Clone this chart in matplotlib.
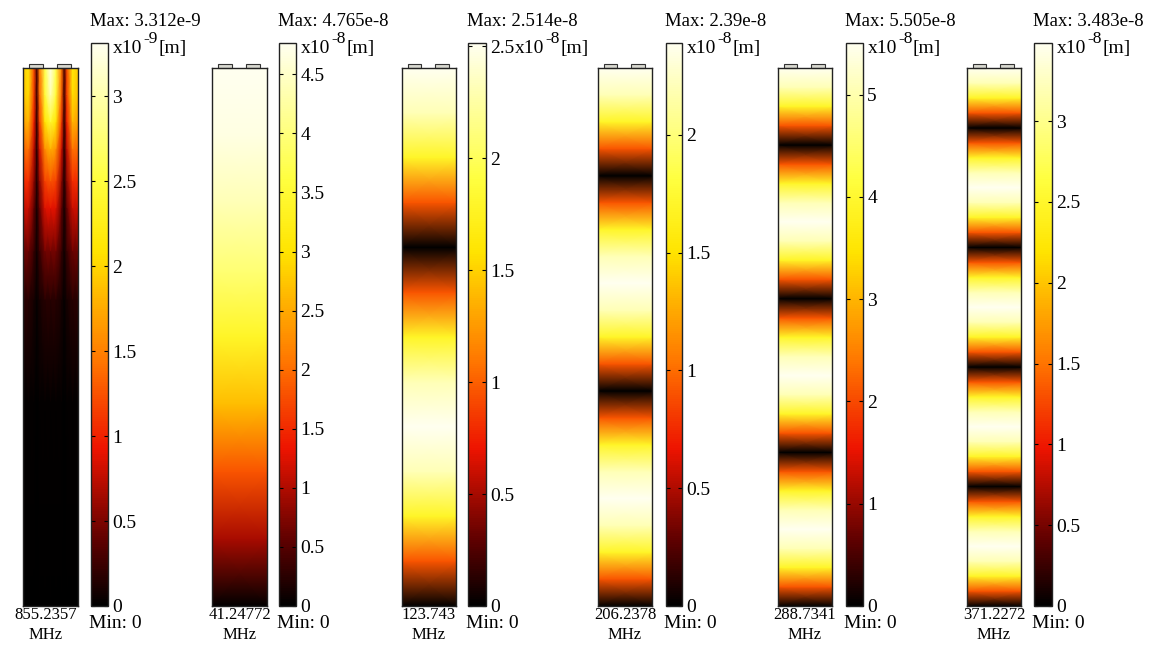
import matplotlib
matplotlib.use("Agg")
import matplotlib.pyplot as plt
import numpy as np
from matplotlib.colors import LinearSegmentedColormap
from matplotlib.patches import Rectangle

plt.rcParams['font.family'] = ['Liberation Serif', 'DejaVu Serif']

# eigenfrequencies (MHz) and max displacement of each panel
freqs = ['855.2357', '41.24772', '123.743', '206.2378', '288.7341', '371.2272']
max_vals = [3.312, 4.765, 2.514, 2.39, 5.505, 3.483]
max_text = ['3.312e-9', '4.765e-8', '2.514e-8', '2.39e-8', '5.505e-8', '3.483e-8']
exps = ['-9', '-8', '-8', '-8', '-8', '-8']
cb_ticks = [
    [0, 0.5, 1, 1.5, 2, 2.5, 3],
    [0, 0.5, 1, 1.5, 2, 2.5, 3, 3.5, 4, 4.5],
    [0, 0.5, 1, 1.5, 2, 2.5],
    [0, 0.5, 1, 1.5, 2],
    [0, 1, 2, 3, 4, 5],
    [0, 0.5, 1, 1.5, 2, 2.5, 3],
]

# panel 1: 2D field near the top, rows as height fraction (bottom = 0), cols across width
p1_rows = [0.0, 0.38, 0.57, 0.66, 0.74, 0.79, 0.85, 0.90, 0.95, 1.0]
p1_cols = [0, 0.1, 0.2, 0.25, 0.3, 0.4, 0.5, 0.6, 0.7, 0.75, 0.8, 0.9, 1.0]
p1_vals = [
    [0.0, 0.0, 0.0, 0.0, 0.0, 0.0, 0.0, 0.0, 0.0, 0.0, 0.0, 0.0, 0.0],
    [0.005, 0.005, 0.004, 0.002, 0.004, 0.005, 0.005, 0.005, 0.004, 0.002, 0.004, 0.005, 0.005],
    [0.05, 0.05, 0.03, 0.01, 0.03, 0.05, 0.05, 0.05, 0.03, 0.01, 0.03, 0.05, 0.05],
    [0.13, 0.13, 0.07, 0.02, 0.07, 0.14, 0.14, 0.14, 0.07, 0.02, 0.07, 0.13, 0.13],
    [0.24, 0.24, 0.12, 0.03, 0.12, 0.26, 0.27, 0.26, 0.12, 0.03, 0.12, 0.24, 0.24],
    [0.32, 0.32, 0.17, 0.04, 0.17, 0.35, 0.38, 0.35, 0.17, 0.04, 0.17, 0.32, 0.32],
    [0.41, 0.43, 0.23, 0.05, 0.25, 0.48, 0.54, 0.48, 0.25, 0.05, 0.23, 0.43, 0.41],
    [0.50, 0.55, 0.30, 0.06, 0.34, 0.63, 0.73, 0.63, 0.34, 0.06, 0.30, 0.55, 0.50],
    [0.56, 0.62, 0.35, 0.08, 0.41, 0.74, 0.92, 0.74, 0.41, 0.08, 0.35, 0.62, 0.56],
    [0.58, 0.65, 0.37, 0.09, 0.44, 0.78, 0.98, 0.78, 0.44, 0.09, 0.37, 0.65, 0.58],
]

# panels 2-6: displacement profile along the height (bottom -> top), fraction of max
p2 = [0, 0.20, 0.38, 0.56, 0.71, 0.83, 0.92, 0.98, 1.0]
p3 = [0, .38, .71, .92, 1, .92, .71, .38, 0, .38, .71, .92, 1]
p4 = [0, .38, .71, .92, 1, .92, .71, .38, 0, .38, .71, .92, 1, .92, .71, .38, 0,
      .38, .71, .92, 1]
p5 = [0, .38, .71, .92, 1, .92, .71, .38, 0, .38, .71, .92, 1, .92, .71, .38, 0,
      .38, .71, .92, 1, .92, .71, .38, 0, .38, .71, .92, 1]
p6 = [0, .38, .71, .92, 1, .92, .71, .38, 0, .38, .71, .92, 1, .92, .71, .38, 0,
      .38, .71, .92, 1, .92, .71, .38, 0, .38, .71, .92, 1, .92, .71, .38, 0,
      .38, .71, .92, 1]
profiles = [p2, p3, p4, p5, p6]

# layout in pixels
W, H = 1161, 651
bar_px = [(23, 78), (212, 267), (402, 456), (598, 652), (778, 832), (967, 1021)]
cb_px = [(91, 108), (279, 296), (468, 486), (666, 682), (846, 863), (1034, 1052)]
bottom_y, bar_top, cb_top = 606, 68, 43

cmap = LinearSegmentedColormap.from_list('thermal', [
    (0.0, '#000000'), (0.11, '#5a0000'), (0.28, '#ee1400'), (0.43, '#ff7400'),
    (0.63, '#ffe400'), (0.76, '#ffff40'), (1.0, '#fffff0')])

fig = plt.figure(figsize=(W / 100, H / 100), dpi=100)

def ftxt(x, y, s, **kw):
    fig.text(x / W, 1 - y / H, s, **kw)

for i in range(6):
    x0, x1 = bar_px[i]
    ax = fig.add_axes([x0 / W, (H - bottom_y) / H, (x1 - x0) / W, (bottom_y - bar_top) / H])
    vmax = max_vals[i]
    if i == 0:
        X, Y = np.meshgrid(p1_cols, p1_rows)
        C = np.array(p1_vals) * vmax
    else:
        prof = np.array(profiles[i - 1]) * vmax
        t = np.linspace(0, 1, len(prof))
        X, Y = np.meshgrid([0, 1], t)
        C = np.column_stack([prof, prof])
    m = ax.pcolormesh(X, Y, C, shading='gouraud', cmap=cmap, vmin=0, vmax=vmax)
    ax.set_xlim(0, 1)
    ax.set_ylim(0, 1)
    ax.set_xticks([])
    ax.set_yticks([])
    for s in ax.spines.values():
        s.set_color('#222222')
        s.set_linewidth(1.0)
    # small electrode tabs on top
    for tx in (0.11, 0.62):
        ax.add_patch(Rectangle((tx, 1.0), 0.25, 0.008, transform=ax.transAxes,
                               clip_on=False, facecolor='#d8d8d0', edgecolor='#333333', lw=0.8))

    c0, c1 = cb_px[i]
    cax = fig.add_axes([c0 / W, (H - bottom_y) / H, (c1 - c0) / W, (bottom_y - cb_top) / H])
    cb = fig.colorbar(m, cax=cax)
    cb.set_ticks(cb_ticks[i])
    cb.set_ticklabels(['%g' % v for v in cb_ticks[i]])
    cb.outline.set_edgecolor('#222222')
    cb.outline.set_linewidth(1.0)
    cax.tick_params(axis='y', direction='in', left=True, right=True, length=3,
                    width=0.8, labelsize=14, pad=3)

    ftxt(c0 - 1, 26, 'Max: ' + max_text[i], fontsize=13.5, ha='left', va='baseline')
    ux = c1 + 5 + (24 if i == 2 else 0)
    ftxt(ux, 53, 'x10', fontsize=14, ha='left', va='baseline')
    ftxt(ux + 30, 43, exps[i], fontsize=12.5, ha='left', va='baseline')
    ftxt(ux + 45, 53, '[m]', fontsize=14, ha='left', va='baseline')
    ftxt(c0 - 2, 623, 'Min: 0', fontsize=14, ha='left', va='center')
    ftxt((x0 + x1) / 2 - (5 if i == 0 else 0), 607, freqs[i] + '\nMHz', fontsize=12,
         ha='center', va='top', multialignment='center', linespacing=1.3)

fig.savefig('out.png', dpi=100)
